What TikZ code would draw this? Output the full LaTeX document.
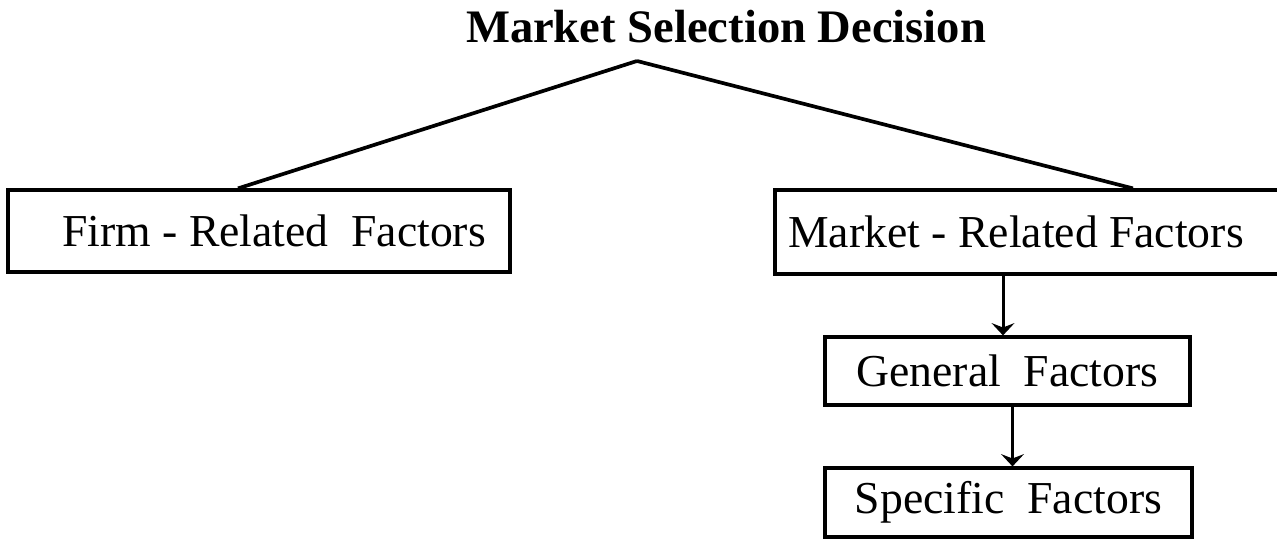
\documentclass[tikz,border=0pt]{standalone}
\usepackage{fontspec}
\setmainfont{Liberation Serif}
\usepackage{tikz}
\usetikzlibrary{arrows.meta}
\usetikzlibrary{shapes,arrows}
\tikzstyle{arrow} = [line width=1.7pt,-{Stealth[length=7pt,width=13pt,inset=2.5pt]}]
\tikzstyle{factor} = [draw, line width=1.8pt, rectangle, inner sep=0pt, font=\fontsize{26}{30}\selectfont]

\begin{document}
\begin{tikzpicture}[
            line width=2.1pt
        ]
            \useasboundingbox (0,0) rectangle (25.54,-10.78);

            \node[anchor=base, font=\fontsize{26.5}{30}\selectfont\bfseries] (title) at (14.52,-0.86) {Market Selection Decision};
            \coordinate (apex) at (12.74,-1.22);

            % box texts sit a little off centre
            \node[factor, minimum width=10.04cm, minimum height=1.64cm] (firm) at (5.18,-4.62) {\hspace{0.6cm}Firm - Related~ Factors};
            \node[factor, minimum width=10.14cm, minimum height=1.68cm] (market) at (20.57,-4.64) {Market - Related Factors\kern0.5cm};
            \node[factor, minimum width=7.3cm, minimum height=1.36cm] (general) at (20.15,-7.42) {General~ Factors};
            \node[factor, minimum width=7.34cm, minimum height=1.38cm] (specific) at (20.17,-10.05) {Specific~ Factors};

            \draw (apex) -- ([xshift=-0.42cm]firm.north);
            \draw (apex) -- ([xshift=2.09cm]market.north);

            \draw[arrow] ([xshift=-0.09cm]general.north |- market.south) -- ([xshift=-0.09cm]general.north);
            \draw[arrow] ([xshift=0.1cm]general.south) -- ([xshift=0.1cm]general.south |- specific.north);

        \end{tikzpicture}
\end{document}
